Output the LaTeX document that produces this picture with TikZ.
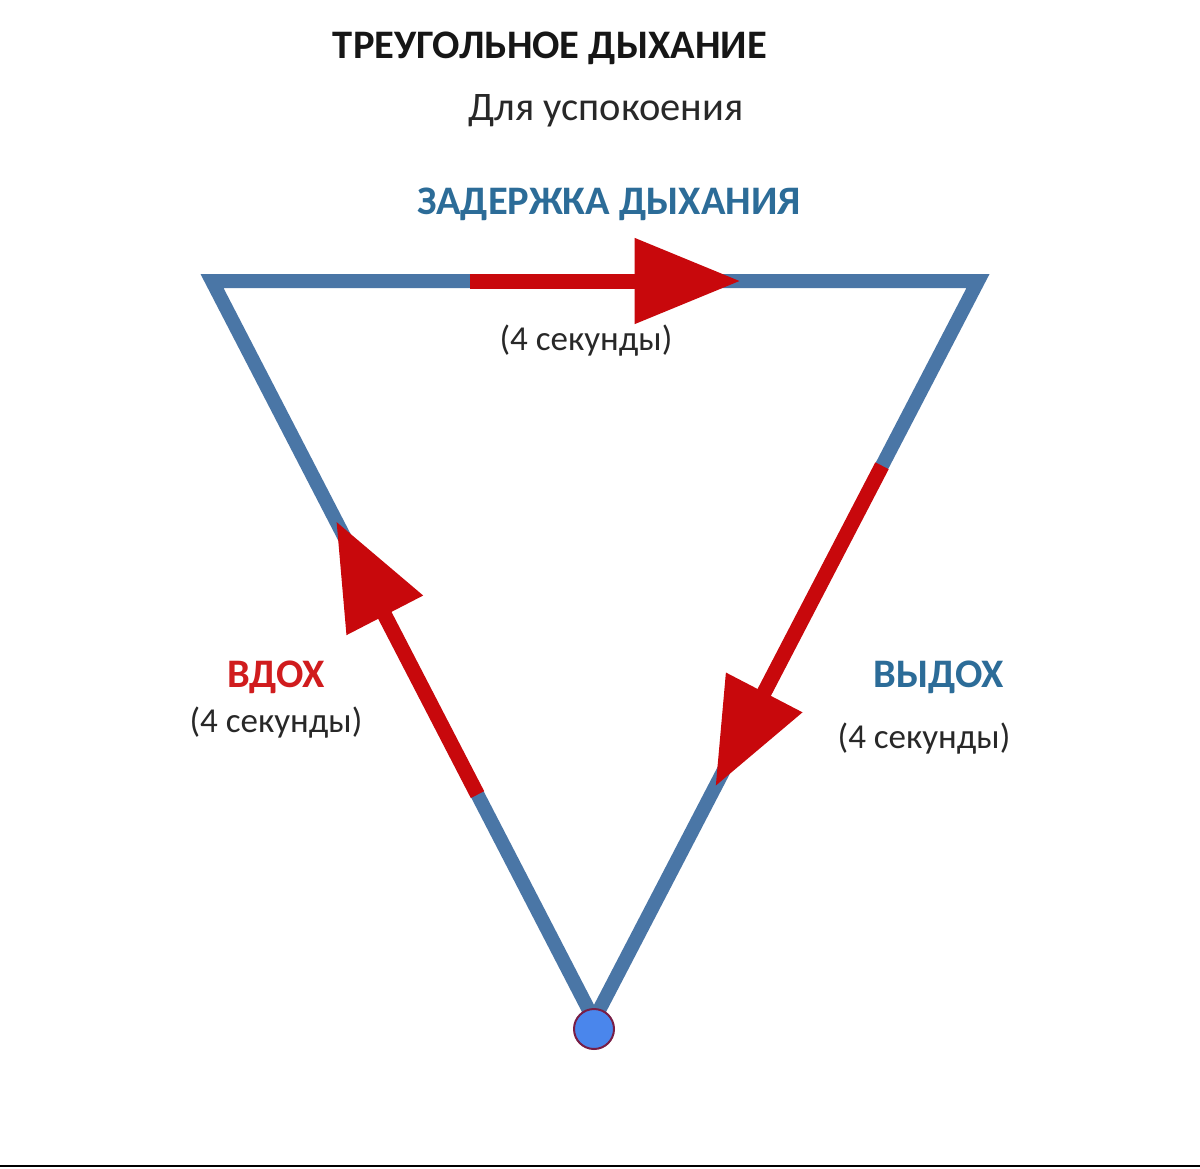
\documentclass[tikz,border=0pt]{standalone}
\usepackage{fontspec}
\setmainfont{Carlito}
\usetikzlibrary{arrows.meta,calc}
\definecolor{edgeblue}{RGB}{74,118,166}
\definecolor{arrowred}{RGB}{200,8,12}
\definecolor{dotfill}{RGB}{74,134,236}
\definecolor{dotdraw}{RGB}{120,30,70}
\definecolor{titleink}{RGB}{22,22,22}
\definecolor{subink}{RGB}{40,40,40}
\definecolor{bluetext}{RGB}{44,108,152}
\definecolor{redtext}{RGB}{208,28,30}
\tikzset{
  edge/.style={draw=edgeblue, line width=14pt, line join=miter},
  breath/.style={draw=arrowred, line width=15pt,
    -{Triangle[length=106pt, width=82pt]}},
  headtext/.style={font=\fontsize{40.5}{44}\selectfont\bfseries, text=titleink, inner sep=0pt},
  subtext/.style={font=\fontsize{40.5}{44}\selectfont, text=subink, inner sep=0pt},
  phase/.style={font=\fontsize{40.5}{44}\selectfont\bfseries, inner sep=0pt},
  secs/.style={font=\fontsize{35}{38}\selectfont, text=subink, inner sep=0pt},
  dot/.style={circle, fill=dotfill, draw=dotdraw, line width=2pt, minimum size=40pt, inner sep=0pt}
}
\begin{document}
\begin{tikzpicture}[x=1pt, y=-1pt]
\useasboundingbox (0,0) rectangle (1200,1168);
\fill[white] (0,0) rectangle (1200,1168);
% vertices
\coordinate (A) at (212,281);
\coordinate (B) at (978,281);
\coordinate (C) at (594,1020);
% triangle
\draw[edge] (A) -- (B) -- (C) -- cycle;
% arrows along the edges
\coordinate (tS) at ($(A)!0.337!(B)$);
\coordinate (tE) at ($(A)!0.690!(B)$);
\coordinate (lS) at ($(C)!0.305!(A)$);
\coordinate (lE) at ($(C)!0.675!(A)$);
\coordinate (rS) at ($(B)!0.250!(C)$);
\coordinate (rE) at ($(B)!0.684!(C)$);
\draw[breath] (tS) -- (tE);
\draw[breath] (lS) -- (lE);
\draw[breath] (rS) -- (rE);
% start dot
\node[dot] (start) at (594,1029) {};
% texts
\node[headtext] (title) at (550,48) {ТРЕУГОЛЬНОЕ ДЫХАНИЕ};
\node[subtext] (sub) at (606,111) {Для успокоения};
\node[phase, text=bluetext] (hold) at (609,204) {ЗАДЕРЖКА ДЫХАНИЯ};
\node[secs] (holdt) at (586,341) {(4 секунды)};
\node[phase, text=redtext] (in) at (276,677) {ВДОХ};
\node[secs] (int) at (276,723) {(4 секунды)};
\node[phase, text=bluetext] (out) at (939,677) {ВЫДОХ};
\node[secs] (outt) at (924,739) {(4 секунды)};
% bottom rule
\coordinate (L) at (0,1166);
\coordinate (R) at (1200,1166);
\draw[black, line width=2.5pt] (L) -- (R);
\end{tikzpicture}
\end{document}
